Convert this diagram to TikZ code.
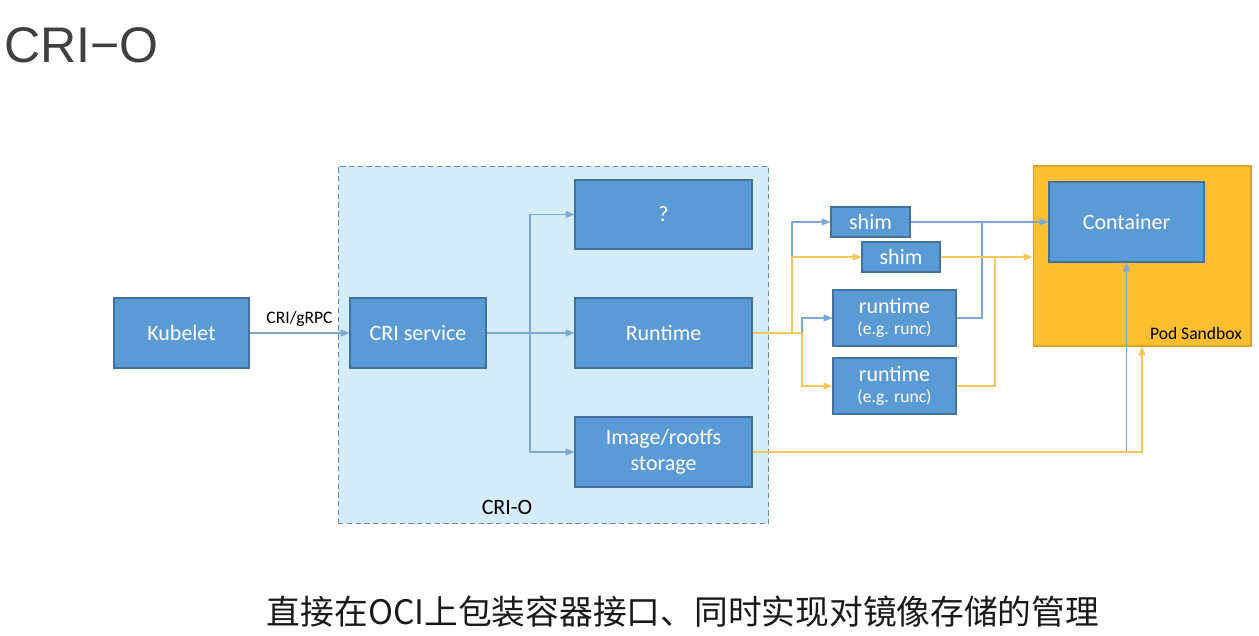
\documentclass[tikz,border=0pt]{standalone}
\usepackage{fontspec}
\setmainfont{Carlito}
\newfontfamily\titlefont{Liberation Sans}
\newfontfamily\cjkfont{Noto Sans CJK SC}
\usetikzlibrary{arrows.meta}

\definecolor{boxblue}{HTML}{5B9BD5}
\definecolor{boxline}{HTML}{41719C}
\definecolor{regionfill}{HTML}{D5EDFA}
\definecolor{regionline}{HTML}{6A8BA8}
\definecolor{podfill}{HTML}{FBBF2F}
\definecolor{podline}{HTML}{E0A020}
\definecolor{lineblue}{HTML}{7BA8D4}
\definecolor{lineyellow}{HTML}{F5C859}
\definecolor{titlegray}{HTML}{404040}

\newcommand{\smalltxt}{\fontsize{10}{12}\selectfont}

\begin{document}
\begin{tikzpicture}[
    x=0.02cm, y=-0.02cm,
    box/.style={draw=boxline, line width=0.6pt, fill=boxblue, text=white,
                font=\fontsize{12.5}{15}\selectfont, align=center, inner sep=0pt},
    bline/.style={draw=lineblue, line width=0.6pt},
    yline/.style={draw=lineyellow, line width=0.6pt},
    bflow/.style={bline, -{Triangle[length=5pt, width=4pt]}},
    yflow/.style={yline, -{Triangle[length=5pt, width=4pt]}},
    note/.style={font=\smalltxt, text=black},
]
    \useasboundingbox (0,0) rectangle (1259,636);

    \node[anchor=base west, inner sep=0pt, text=titlegray,
          font=\titlefont\fontsize{28.5}{30}\selectfont] (title) at (4,62) {CRI−O};

    % CRI-O region
    \node[draw=regionline, fill=regionfill, line width=0.6pt,
          dash pattern=on 3pt off 2pt, minimum width=8.62cm, minimum height=7.16cm]
        (crio) at (553.5,345) {};
    \node[font=\fontsize{12.5}{15}\selectfont] (criolabel) at (507,507) {CRI-O};

    % pod sandbox
    \node[draw=podline, fill=podfill, line width=0.6pt,
          minimum width=4.36cm, minimum height=3.6cm] (pod) at (1142,256) {};
    \node[note] (podlabel) at (1196,333) {Pod Sandbox};

    \node[box, minimum width=2.7cm, minimum height=1.4cm] (kube) at (181.5,333) {Kubelet};
    \node[box, minimum width=2.72cm, minimum height=1.4cm] (cri) at (418,333) {CRI service};
    \node[box, minimum width=3.54cm, minimum height=1.38cm] (qbox) at (663.5,214.5) {?};
    \node[box, minimum width=3.54cm, minimum height=1.4cm] (run) at (663.5,333) {Runtime};
    \node[box, minimum width=3.54cm, minimum height=1.4cm] (img) at (663.5,452)
        {Image/rootfs\\storage};
    \node[box, minimum width=1.58cm, minimum height=0.6cm] (shim1) at (870.5,222) {shim};
    \node[box, minimum width=1.56cm, minimum height=0.6cm] (shim2) at (901,257) {shim};
    \node[box, minimum width=2.46cm, minimum height=1.12cm] (rt1) at (894.5,318)
        {runtime\\[-3pt]\smalltxt (e.g. runc)};
    \node[box, minimum width=2.46cm, minimum height=1.12cm] (rt2) at (894.5,386)
        {runtime\\[-3pt]\smalltxt (e.g. runc)};
    \node[box, minimum width=3.1cm, minimum height=1.6cm] (cont) at (1126.5,222) {Container};

    % inside CRI-O
    \coordinate (split) at (530,333);
    \draw[bflow] (kube.east) -- node[above, note] {CRI/gRPC} (cri.west);
    \draw[bflow] (cri.east) -- (run.west);
    \draw[bflow] (split) |- (qbox.west);
    \draw[bflow] (split) |- (img.west);

    % runtime to shims
    \coordinate (fa) at (792,333);
    \coordinate (fb) at (802,333);
    \draw[bflow] (fa) |- (shim1.west);
    \draw[bflow] (fb) |- (rt1.west);
    \draw[yline] (run.east) -- (fb);
    \draw[yflow] (fa) |- (shim2.west);
    \draw[yflow] (fb) |- (rt2.west);

    % shims to the sandbox
    \coordinate (ja) at (982,222);
    \coordinate (jb) at (995,257);
    \draw[bflow] (shim1.east) -- (cont.west);
    \draw[bline] (rt1.east) -| (ja);
    \draw[yflow] (shim2.east) -- (shim2.east -| pod.west);
    \draw[yline] (rt2.east) -| (jb);

    % storage
    \draw[bflow] (img.east) -| (cont.south);
    \draw[yflow] (img.east) -| (pod.south);

    \node[font=\cjkfont\fontsize{19.2}{22}\selectfont, text=black!90] (caption) at (683,612)
        {直接在OCI上包装容器接口、同时实现对镜像存储的管理};
\end{tikzpicture}
\end{document}
